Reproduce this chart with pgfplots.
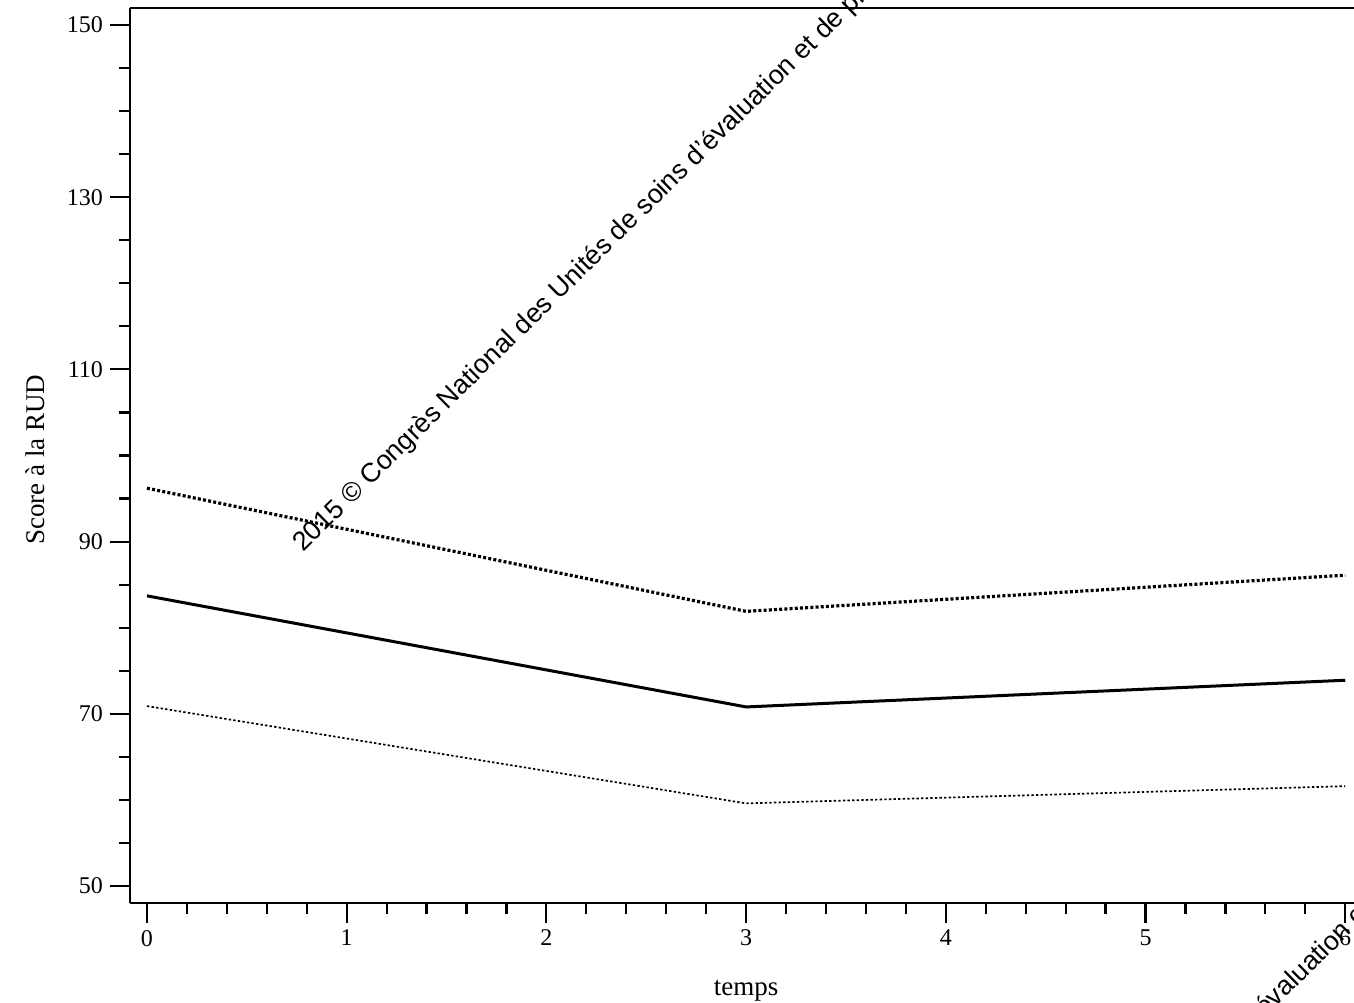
\documentclass[border=0pt]{standalone}
\usepackage{fontspec}
\setmainfont{Liberation Serif}
\newfontfamily\wmfont{Liberation Sans}
\usepackage{pgfplots}
\pgfplotsset{compat=1.18}
\begin{document}
\begin{tikzpicture}
\useasboundingbox (-65pt,-49.5pt) rectangle (612pt,451.5pt);
\begin{axis}[
 at={(0,0)}, anchor=south west,
 scale only axis, width=612pt, height=447.5pt,
 xmin=-0.085, xmax=6.044, ymin=48.03, ymax=151.97,
 axis x line*=bottom, axis y line*=left,
 axis line style={line width=1.1pt, -},
 xtick={0,...,6}, ytick={50,70,...,150},
 minor x tick num=4, minor y tick num=3,
 tick align=outside,
 major tick length=10pt, minor tick length=5.5pt,
 every tick/.style={black, line width=1.1pt},
 tick label style={font=\fontsize{12}{14}\selectfont},
 /pgf/number format/assume math mode=true,
 xlabel={temps}, ylabel={Score à la RUD},
 every axis x label/.style={at={(axis cs:3,48.03)}, anchor=base, yshift=-46pt, font=\fontsize{13.5}{15}\selectfont},
 every axis y label/.style={at={(axis cs:-0.085,99.5)}, rotate=90, anchor=center, yshift=47.5pt, font=\fontsize{13.5}{15}\selectfont},
 clip=false,
]
\draw[line width=1.1pt] (rel axis cs:0,1) -- (rel axis cs:1,1);
\addplot[black, line width=1.5pt] coordinates {(0,83.7) (3,70.8) (6,73.9)};
\addplot[black, line width=1.6pt, dash pattern=on 1.5pt off 1.1pt] coordinates {(0,96.2) (3,81.9) (6,86.1)};
\addplot[black, line width=0.85pt, dash pattern=on 1.2pt off 1.1pt] coordinates {(0,70.9) (3,59.6) (6,61.6)};
\node[overlay, rotate=44.5, anchor=base west, inner sep=0pt, font=\wmfont\fontsize{13.4}{16}\selectfont] at (axis cs:0.781,88.7) {2015 © Congrès National des Unités de soins d’évaluation et de prise en charge Alzheimer};
\node[overlay, rotate=44.5, anchor=base west, inner sep=0pt, font=\wmfont\fontsize{13.4}{16}\selectfont] at (axis cs:3.56,-11.8) {2015 © Congrès National des Unités de soins d’évaluation et de prise en charge Alzheimer};
\end{axis}
\end{tikzpicture}
\end{document}
